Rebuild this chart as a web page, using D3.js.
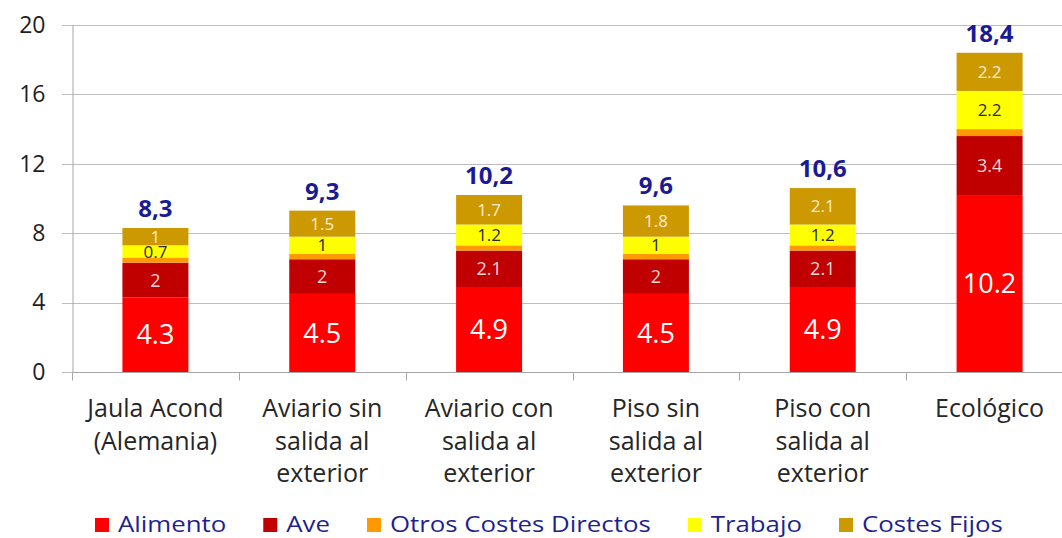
<!DOCTYPE html>
<html>
<head>
<meta charset="utf-8">
<script src="https://cdn.jsdelivr.net/npm/d3@7"></script>
<style>
  html, body { margin: 0; padding: 0; background: #fff; }
  svg { display: block; font-family: "Open Sans", "Noto Sans", sans-serif; }
</style>
</head>
<body>
<svg id="chart" width="1062" height="538"></svg>
<script>
// Coste de producción por sistema de alojamiento
const categories = [
  "Jaula Acond (Alemania)",
  "Aviario sin salida al exterior",
  "Aviario con salida al exterior",
  "Piso sin salida al exterior",
  "Piso con salida al exterior",
  "Ecológico"
];
const categoryLines = [
  ["Jaula Acond", "(Alemania)"],
  ["Aviario sin", "salida al", "exterior"],
  ["Aviario con", "salida al", "exterior"],
  ["Piso sin", "salida al", "exterior"],
  ["Piso con", "salida al", "exterior"],
  ["Ecológico"]
];
const seriesNames = ["Alimento", "Ave", "Otros Costes Directos", "Trabajo", "Costes Fijos"];
const alimento     = [4.3, 4.5, 4.9, 4.5, 4.9, 10.2];
const ave          = [2, 2, 2.1, 2, 2.1, 3.4];
const otros        = [0.3, 0.3, 0.3, 0.3, 0.3, 0.4];
const trabajo      = [0.7, 1, 1.2, 1, 1.2, 2.2];
const costesFijos  = [1, 1.5, 1.7, 1.8, 2.1, 2.2];
const totalLabels  = ["8,3", "9,3", "10,2", "9,6", "10,6", "18,4"];
const yTicks = [0, 4, 8, 12, 16, 20];

const colors = ["#FF0000", "#C00000", "#FF9900", "#FFFF00", "#CC9900"];
const labelColors = ["#FFFFFF", "#F4D6D6", null, "#2A2A2A", "#FBEBD0"];
const labelSizes = [27, 18, 0, 17, 17];

const seriesValues = [alimento, ave, otros, trabajo, costesFijos];
const rows = categories.map((c, i) => {
  const r = { cat: c };
  seriesNames.forEach((s, k) => r[s] = seriesValues[k][i]);
  return r;
});

const svg = d3.select("#chart");
const plot = { left: 72, right: 1073, top: 25, bottom: 372 };

const x = d3.scaleBand().domain(categories).range([plot.left, plot.right]).paddingInner(0).paddingOuter(0);
const barW = 66;
const y = d3.scaleLinear().domain([0, 20]).range([plot.bottom, plot.top]);

// horizontal gridlines
svg.append("g")
  .selectAll("line")
  .data(yTicks)
  .join("line")
  .attr("x1", plot.left - 10)
  .attr("x2", 1062)
  .attr("y1", d => Math.round(y(d)) + 0.5)
  .attr("y2", d => Math.round(y(d)) + 0.5)
  .attr("stroke", "#BDBDBD")
  .attr("stroke-width", 1);

// y axis
const yAxis = svg.append("g")
  .attr("transform", `translate(${plot.left + 0.5},0)`)
  .call(d3.axisLeft(y).tickValues(yTicks).tickSize(0).tickPadding(27));
yAxis.select(".domain").attr("stroke", "#A6A6A6");
yAxis.selectAll("text")
  .attr("font-size", 23)
  .attr("fill", "#1E1E1E")
  .attr("font-family", "'Open Sans', sans-serif");

// stacked bars
const stack = d3.stack().keys(seriesNames);
const layers = stack(rows);

const g = svg.append("g");
layers.forEach((layer, k) => {
  g.selectAll(null)
    .data(layer)
    .join("rect")
    .attr("x", d => x(d.data.cat) + x.bandwidth() / 2 - barW / 2)
    .attr("width", barW)
    .attr("y", d => y(d[1]))
    .attr("height", d => y(d[0]) - y(d[1]))
    .attr("fill", colors[k]);
});

// segment value labels
layers.forEach((layer, k) => {
  if (!labelColors[k]) return;
  g.selectAll(null)
    .data(layer)
    .join("text")
    .attr("x", d => x(d.data.cat) + x.bandwidth() / 2)
    .attr("y", d => (y(d[0]) + y(d[1])) / 2)
    .attr("dy", "0.36em")
    .attr("text-anchor", "middle")
    .attr("font-size", labelSizes[k])
    .attr("fill", labelColors[k])
    .text(d => d[1] - d[0] > 0 ? String(+(d[1] - d[0]).toFixed(1)) : "");
});

// totals above bars
const topLayer = layers[layers.length - 1];
g.selectAll(null)
  .data(topLayer)
  .join("text")
  .attr("x", d => x(d.data.cat) + x.bandwidth() / 2)
  .attr("y", d => y(d[1]) - 11)
  .attr("text-anchor", "middle")
  .attr("font-size", 24)
  .attr("font-weight", "bold")
  .attr("fill", "#1A1A96")
  .text((d, i) => totalLabels[i]);

// x axis baseline and category separators
const xAxis = svg.append("g")
  .attr("transform", `translate(0,${plot.bottom + 0.5})`);
xAxis.append("line")
  .attr("x1", plot.left).attr("x2", 1062)
  .attr("stroke", "#A6A6A6");
xAxis.selectAll("line.sep")
  .data(categories)
  .join("line")
  .attr("class", "sep")
  .attr("x1", d => Math.round(x(d)) + 0.5)
  .attr("x2", d => Math.round(x(d)) + 0.5)
  .attr("y1", 0).attr("y2", 8)
  .attr("stroke", "#A6A6A6");

const catText = svg.append("g")
  .selectAll("text")
  .data(categories)
  .join("text")
  .attr("text-anchor", "middle")
  .attr("font-size", 25)
  .attr("fill", "#262626")
  .attr("transform", d => `translate(${x(d) + x.bandwidth() / 2},0)`);
catText.each(function(d, i) {
  d3.select(this).selectAll("tspan")
    .data(categoryLines[i])
    .join("tspan")
    .attr("x", 0)
    .attr("y", (l, j) => 417 + j * 32.5)
    .text(l => l);
});

// legend (text set slightly wide, like the slide it comes from)
const legend = svg.append("g").attr("font-size", 21).attr("fill", "#1F1F8F");
const stretch = 1.23;
let lx = 95;
seriesNames.forEach((name, k) => {
  legend.append("rect")
    .attr("x", lx).attr("y", 518)
    .attr("width", 14).attr("height", 14)
    .attr("fill", colors[k]);
  const t = legend.append("text")
    .attr("transform", `translate(${lx + 23},532) scale(${stretch},1)`)
    .text(name);
  lx += 23 + t.node().getComputedTextLength() * stretch + 37;
});
</script>
</body>
</html>
